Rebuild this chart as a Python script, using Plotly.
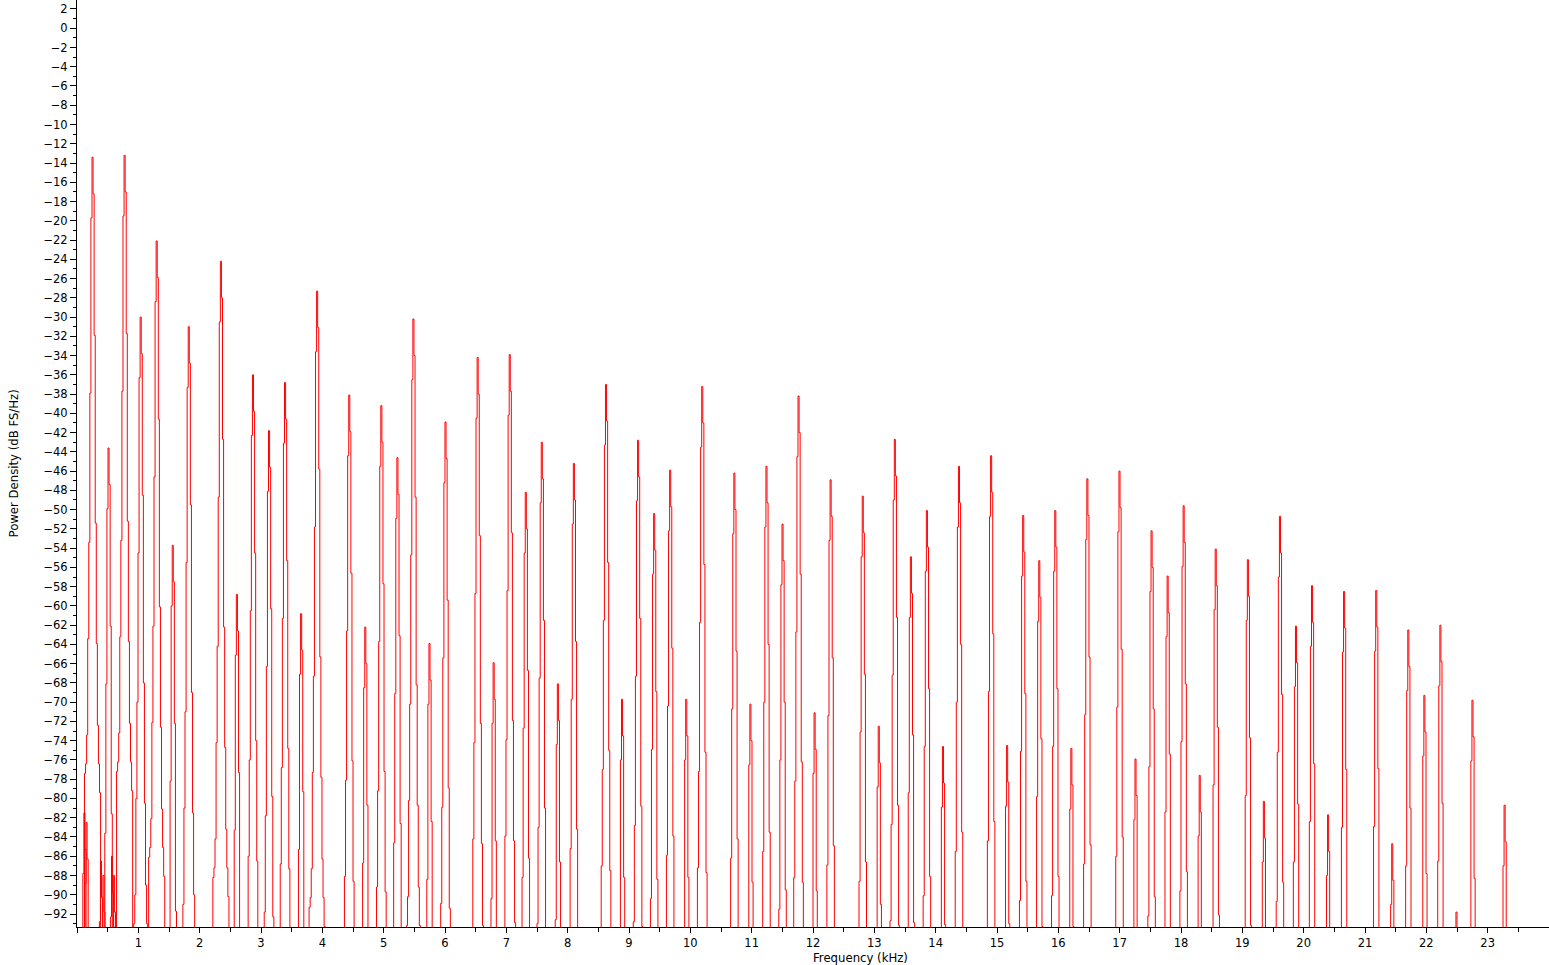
import plotly.graph_objects as go

# Harmonic peak frequencies (kHz)
peak_khz = [0.262, 0.523, 0.785, 1.047, 1.308, 1.570, 1.831,
            2.355, 2.616, 2.878, 3.140, 3.401, 3.663, 3.924,
            4.448, 4.709, 4.971, 5.233, 5.494, 5.756, 6.017,
            6.541, 6.802, 7.064, 7.326, 7.587, 7.849, 8.110,
            8.634, 8.895, 9.157, 9.419, 9.680, 9.942, 10.203,
            10.727, 10.988, 11.250, 11.512, 11.773, 12.035, 12.296,
            12.820, 13.081, 13.343, 13.605, 13.866, 14.128, 14.389,
            14.913, 15.174, 15.436, 15.698, 15.959, 16.221, 16.482,
            17.006, 17.267, 17.529, 17.791, 18.052, 18.314, 18.575,
            19.099, 19.360, 19.622, 19.884, 20.145, 20.407, 20.668,
            21.192, 21.453, 21.715, 21.977, 22.238, 22.500, 22.761,
            23.285]

# Peak levels (dB FS/Hz)
peak_db = [-13.4, -43.6, -13.2, -30.0, -22.1, -53.7, -31.0,
           -24.2, -58.8, -36.0, -41.8, -36.8, -60.8, -27.3,
           -38.1, -62.2, -39.2, -44.6, -30.2, -63.9, -40.9,
           -34.2, -65.9, -33.9, -48.2, -43.0, -68.1, -45.2,
           -37.0, -69.7, -42.8, -50.4, -45.9, -69.7, -37.2,
           -46.2, -70.2, -45.5, -51.5, -38.2, -71.1, -46.9,
           -48.6, -72.5, -42.7, -54.9, -50.1, -74.6, -45.5,
           -44.4, -74.5, -50.6, -55.3, -50.1, -74.8, -46.8,
           -46.0, -75.9, -52.2, -56.9, -49.6, -77.6, -54.1,
           -55.2, -80.3, -50.7, -62.1, -57.9, -81.7, -58.5,
           -58.4, -84.7, -62.5, -69.3, -62.0, -91.8, -69.8,
           -80.7]

# Low-level components near DC
low_khz = [0.13, 0.165, 0.40, 0.44, 0.58, 0.61]
low_db = [-81.5, -82.5, -86.5, -88.0, -86.0, -88.0]

# Leakage profile around each peak (bin offset, dB relative to peak)
profile_bins = [-7, -6, -5, -4, -3, -2, -1, 0, 1, 2, 3, 4, 5, 6, 7]
profile_rel_db = [-64, -63, -60, -50, -40, -24.5, -6.3, 0, -3.8, -18.5,
                  -38, -50.5, -59, -63, -66]
bin_khz = 0.0175
floor_db = -200

x_ticks = list(range(0, 24))
x_ticktext = [""] + [str(v) for v in range(1, 24)]
y_ticks = list(range(-92, 3, 2))

xs, ys = [], []
for f, lvl in list(zip(low_khz, low_db)) + list(zip(peak_khz, peak_db)):
    xs.append(f + (profile_bins[0] - 1) * bin_khz)
    ys.append(floor_db)
    for b, r in zip(profile_bins, profile_rel_db):
        xs.append(f + b * bin_khz)
        ys.append(lvl + r)
    xs.append(f + (profile_bins[-1] + 1) * bin_khz)
    ys.append(floor_db)
    xs.append(None)
    ys.append(None)

fig = go.Figure()
fig.add_trace(go.Scatter(x=xs, y=ys, mode="lines",
                         line=dict(color="#ff0000", width=1, shape="vh"),
                         connectgaps=False, hoverinfo="skip"))

font = "DejaVu Sans"
fig.update_layout(
    width=1549, height=965, autosize=False,
    margin=dict(l=77, r=0, t=0, b=38, pad=0),
    paper_bgcolor="white", plot_bgcolor="white",
    showlegend=False,
    font=dict(family=font, size=11, color="black"),
    xaxis=dict(range=[0, 24.0], tickmode="array", tickvals=x_ticks,
               ticktext=x_ticktext, ticks="outside", ticklen=5,
               tickcolor="black", showline=True, linecolor="black",
               linewidth=1, showgrid=False, zeroline=False,
               tickfont=dict(family=font, size=11.5),
               minor=dict(tickmode="linear", tick0=0, dtick=0.5,
                          ticks="outside", ticklen=4, tickcolor="black")),
    yaxis=dict(range=[-93.35, 2.93], tickmode="array", tickvals=y_ticks,
               ticks="outside", ticklen=6, tickcolor="black",
               showline=True, linecolor="black", linewidth=1,
               showgrid=False, zeroline=False,
               tickfont=dict(family=font, size=11.5),
               minor=dict(tickmode="linear", tick0=0, dtick=1,
                          ticks="outside", ticklen=3, tickcolor="black")),
    annotations=[
        dict(text="Frequency (kHz)", xref="paper", yref="paper",
             x=0.532, y=-31 / 927, xanchor="center", yanchor="middle",
             showarrow=False, font=dict(family=font, size=11.7)),
        dict(text="Power Density (dB FS/Hz)", xref="paper", yref="paper",
             x=-64 / 1472, y=0.5, xanchor="center", yanchor="middle",
             textangle=-90, showarrow=False, font=dict(family=font, size=11.7)),
    ],
)

fig.write_html("out.html", config={"displayModeBar": False},
               post_script="document.body.style.margin='0';document.body.style.overflow='hidden';")
